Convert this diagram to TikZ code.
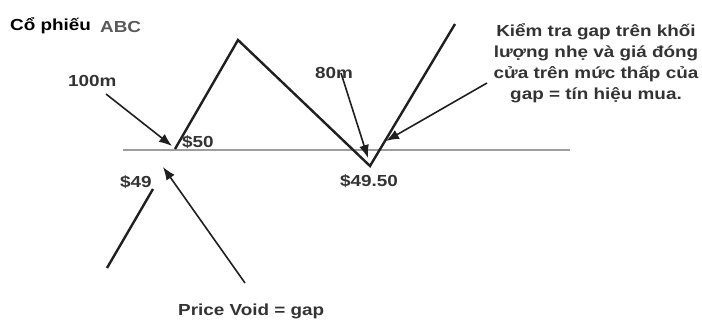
\documentclass[tikz,border=0pt]{standalone}
\usepackage{fontspec}
\setmainfont{Liberation Sans}
\usetikzlibrary{arrows.meta}
\definecolor{ink}{rgb}{0.12, 0.12, 0.12}
\definecolor{txt}{rgb}{0.2, 0.2, 0.2}
\definecolor{level}{rgb}{0.62, 0.62, 0.62}

\begin{document}
\begin{tikzpicture}[x=1pt,y=-1pt,
    lbl/.style={font=\bfseries\fontsize{16}{21}\selectfont, text=txt, xscale=1.18, inner sep=0pt},
    ptr/.style={-{Latex[length=13pt,width=10pt]}, line width=1.6pt, color=ink}]
    \useasboundingbox (0,0) rectangle (702,320);

    % price path
    \coordinate (p0) at (107,268);
    \coordinate (p1) at (153,189);
    \coordinate (p2) at (175,149);
    \coordinate (p3) at (238,40);
    \coordinate (p4) at (370,166);
    \coordinate (p5) at (455,24);
    % gap level
    \coordinate (l0) at (123,150);
    \coordinate (l1) at (570,150);

    \node[lbl, anchor=base west, text=black] (title) at (10,31) {Cổ phiếu};
    \node[lbl, anchor=base west, text=black!65] (abc) at (100,33) {ABC};
    \node[lbl, anchor=base west] (vol1) at (68,87) {100m};
    \node[lbl, anchor=base west] (hi) at (182,148) {\$50};
    \node[lbl, anchor=base west] (lo) at (120,188) {\$49};
    \node[lbl, anchor=base west] (vol2) at (315,79) {80m};
    \node[lbl, anchor=base west] (low2) at (340,187) {\$49.50};
    % multi-line: base sits on the last line
    \node[lbl, anchor=base, align=center] (note) at (596,100) {Kiểm tra gap trên khối\\lượng nhẹ và giá đóng\\cửa trên mức thấp của\\gap = tín hiệu mua.};
    \node[lbl, anchor=base west] (void) at (178,316) {Price Void = gap};

    \draw [color=level, line width=1.8pt] (l0) -- (l1);
    \draw [color=ink, line width=2.4pt, line join=miter] (p0) -- (p1);
    \draw [color=ink, line width=2.4pt, line join=miter] (p2) -- (p3) -- (p4) -- (p5);

    \coordinate (a1) at (106,94);
    \coordinate (a2) at (245,283);
    \coordinate (a3) at (341,73);
    \coordinate (a4) at (487,83);
    \draw[ptr] (a1) -- (172,146);
    \draw[ptr] (a2) -- (163,167);
    \draw[ptr] (a3) -- (368,158);
    \draw[ptr] (a4) -- (386,141);

\end{tikzpicture}
\end{document}
